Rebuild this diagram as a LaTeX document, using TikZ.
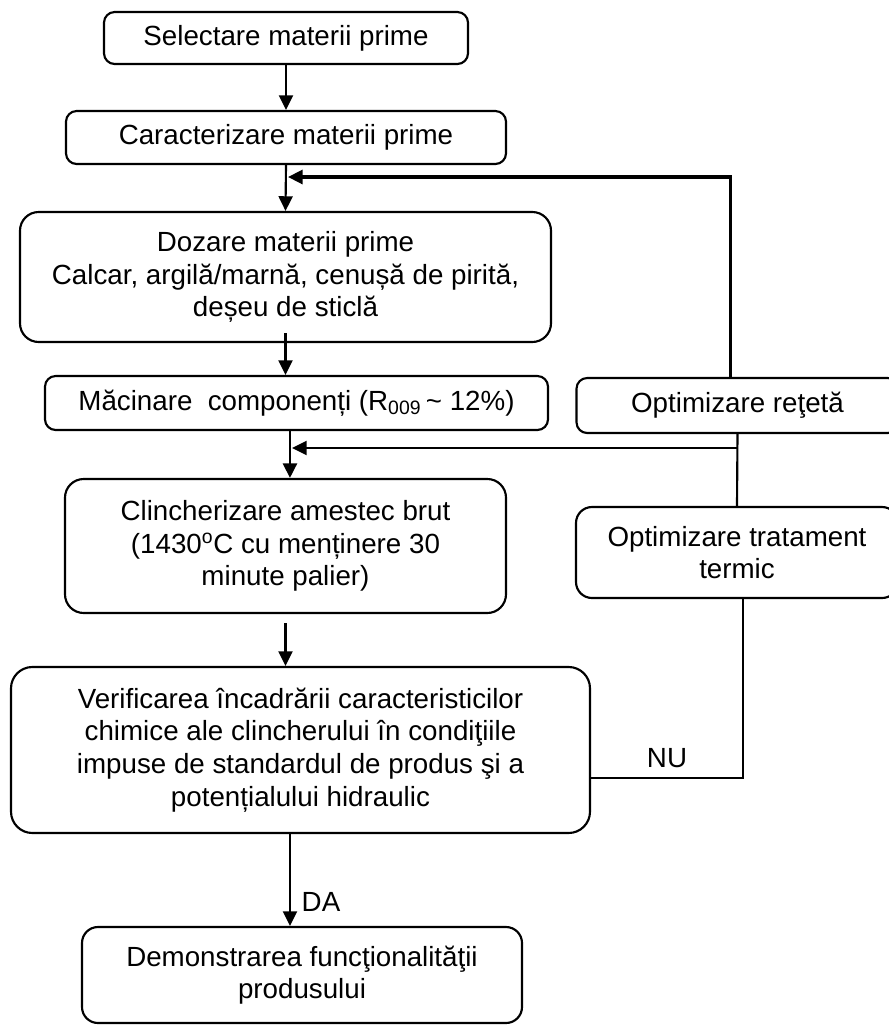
\documentclass[tikz,border=0pt]{standalone}
\usepackage{fontspec}
\setmainfont{Liberation Sans}
\usetikzlibrary{arrows.meta,calc}
\begin{document}
\begin{tikzpicture}[x=0.75pt,y=-0.75pt,
  box/.style={draw,line width=1.6pt,rounded corners=#1,inner sep=0pt,align=center,
    font=\fontsize{20.8}{24.5}\selectfont},
  box/.default=8pt,
  conn/.style={line width=1.6pt,-{Triangle[length=11pt,width=10.5pt]}},
  plain/.style={line width=1.6pt},
  lbl/.style={font=\fontsize{20.8}{24.5}\selectfont,inner sep=0pt}]
\useasboundingbox (0,0) rectangle (889,1025);
\clip (0,0) rectangle (889,1025);

\node[box, minimum width=364*0.75pt, minimum height=52*0.75pt] (b1) at (286,38) {Selectare materii prime};
\node[box, minimum width=440*0.75pt, minimum height=53*0.75pt] (b2) at (286,137.5) {Caracterizare materii prime};
\node[box=14pt, minimum width=531*0.75pt, minimum height=130*0.75pt] (b3) at (285.5,277)
  {Dozare materii prime\\Calcar, argilă/marnă, cenușă de pirită,\\deșeu de sticlă};
\node[box, minimum width=503*0.75pt, minimum height=54*0.75pt] (b4) at (296.5,403)
  {Măcinare\ \ componenți (R\textsubscript{009}\,\textasciitilde\ 12\%)};
\node[box=14pt, minimum width=441*0.75pt, minimum height=134*0.75pt] (b5) at (285.5,546)
  {Clincherizare amestec brut\\(1430\textsuperscript{o}C cu menținere 30\\minute palier)};
\node[box=16pt, minimum width=579*0.75pt, minimum height=166*0.75pt] (b6) at (300.5,750)
  {Verificarea încadrării caracteristicilor\\chimice ale clincherului în condiţiile\\impuse de standardul de produs şi a\\potențialului hidraulic};
\node[box=12pt, minimum width=440*0.75pt, minimum height=96*0.75pt] (b7) at (302,975)
  {Demonstrarea funcţionalităţii\\produsului};
\node[box, minimum width=322*0.75pt, minimum height=55*0.75pt] (r1) at (737.5,405.5) {Optimizare reţetă};
\node[box=12pt, minimum width=322*0.75pt, minimum height=91*0.75pt] (r2) at (737,552.5)
  {Optimizare tratament\\termic};

\coordinate (j1) at (288,177);
\coordinate (j2) at (292,448);
\coordinate (k2) at (738,448);

\draw[conn] (b1.south) -- (b2.north);
\draw[conn] (b2.south) -- (b3.north);
\draw[conn, line width=2.4pt] ([xshift=-5pt]r1.north) |- (j1);
\draw[conn] ([yshift=7.5pt]b3.south) -- (b3.south |- b4.north);
\draw[conn, line width=2.2pt] ([xshift=-4.9pt]b4.south) -- ([xshift=-4.9pt]b4.south |- b5.north);
\draw[plain] (r1.south) -- (r2.north);
\draw[conn] (k2) -- (j2);
\draw[conn] ([yshift=-7pt]b5.south) -- (b5.south |- b6.north);
\draw[conn] ([xshift=-7.9pt]b6.south) -- ([xshift=-7.9pt]b6.south |- b7.north);
\node[lbl] (da) at (321,902) {DA};
\draw[plain] ([yshift=-21pt]b6.east) -| ([xshift=4.5pt]r2.south);
\node[lbl] (nu) at (667,758) {NU};
\end{tikzpicture}
\end{document}
